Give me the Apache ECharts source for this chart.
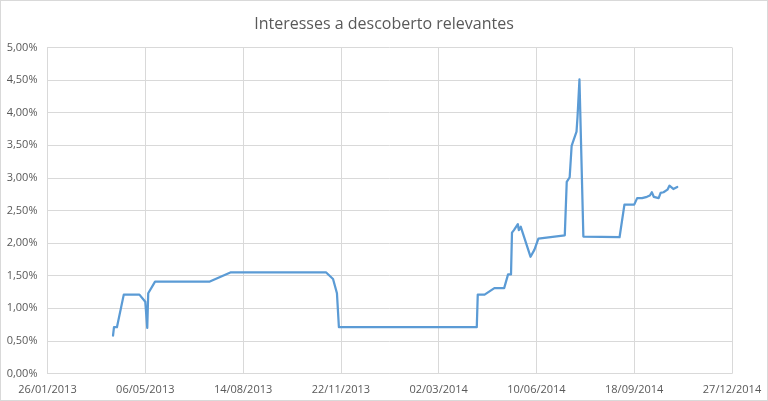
<!DOCTYPE html>
<html>
<head>
<meta charset="utf-8">
<script src="https://cdn.jsdelivr.net/npm/echarts@6/dist/echarts.min.js"></script>
<style>
html,body{margin:0;padding:0;background:#fff;}
#c{width:766px;height:399px;border:1px solid #D9D9D9;}
</style>
</head>
<body>
<div id="c"></div>
<script>
const dates = [
"2013-04-03","2013-04-04","2013-04-07","2013-04-14","2013-04-30","2013-05-06","2013-05-08","2013-05-09","2013-05-16","2013-07-11",
"2013-08-01","2013-11-07","2013-11-14","2013-11-18","2013-11-20","2014-04-10","2014-04-11","2014-04-18","2014-04-28","2014-05-08",
"2014-05-12","2014-05-15","2014-05-16","2014-05-18","2014-05-20","2014-05-22","2014-05-23","2014-05-25","2014-05-27","2014-06-04",
"2014-06-08","2014-06-10","2014-06-12","2014-06-14","2014-07-09","2014-07-11","2014-07-14","2014-07-16","2014-07-18","2014-07-21",
"2014-07-22","2014-07-23","2014-07-24","2014-07-28","2014-09-03","2014-09-08","2014-09-18","2014-09-21","2014-09-23","2014-09-26",
"2014-10-01","2014-10-04","2014-10-06","2014-10-08","2014-10-10","2014-10-13","2014-10-15","2014-10-18","2014-10-20","2014-10-22",
"2014-10-24","2014-10-28","2014-10-30","2014-11-01"
];
const rates = [
0.58,0.71,0.71,1.21,1.21,1.10,0.70,1.23,1.41,1.41,
1.55,1.55,1.45,1.23,0.71,0.71,1.21,1.21,1.31,1.31,
1.52,1.52,2.16,2.20,2.21,2.29,2.20,2.25,2.28,1.79,
1.90,1.90,2.07,2.10,2.12,2.94,3.01,3.49,3.58,3.71,
3.93,3.93,4.51,2.10,2.09,2.59,2.59,2.69,2.68,2.69,
2.71,2.73,2.78,2.71,2.73,2.69,2.77,2.78,2.80,2.82,
2.88,2.83,2.84,2.86
];
const axisStart = "2013-01-26";
const axisEnd = "2014-12-27";
const stepDays = 100;

const DAY = 86400000;
function toUTC(s){const p=s.split('-').map(Number);return Date.UTC(p[0],p[1]-1,p[2]);}
const origin = toUTC(axisStart);
const dayOf = s => Math.round((toUTC(s)-origin)/DAY);
function fmtDay(d){
  const t=new Date(origin+d*DAY);
  const dd=String(t.getUTCDate()).padStart(2,'0');
  const mm=String(t.getUTCMonth()+1).padStart(2,'0');
  return dd+'/'+mm+'/'+t.getUTCFullYear();
}
const data = dates.map((d,i)=>[dayOf(d), rates[i]]);

const chart = echarts.init(document.getElementById('c'));
chart.setOption({
  animation:false,
  title:{text:'Interesses a descoberto relevantes',left:'center',top:10,
    textStyle:{fontFamily:'Open Sans',fontSize:16,fontWeight:'normal',color:'#595959'}},
  grid:{left:46.5,right:35,top:46.5,bottom:26.5},
  xAxis:{type:'value',min:0,max:dayOf(axisEnd),interval:stepDays,
    axisLine:{show:true,lineStyle:{color:'#D9D9D9'}},
    axisTick:{show:false},
    splitLine:{show:true,lineStyle:{color:'#D9D9D9'}},
    axisLabel:{formatter:v=>fmtDay(v),color:'#595959',fontFamily:'Open Sans',fontSize:11,margin:11}},
  yAxis:{type:'value',min:0,max:5,interval:0.5,
    axisLine:{show:true,lineStyle:{color:'#D9D9D9'}},
    axisTick:{show:false},
    splitLine:{show:true,lineStyle:{color:'#D9D9D9'}},
    axisLabel:{formatter:v=>v.toFixed(2).replace('.',',')+'%',color:'#595959',fontFamily:'Open Sans',fontSize:11,margin:10}},
  series:[{type:'line',data:data,showSymbol:false,symbol:'none',
    lineStyle:{color:'#5B9BD5',width:2.25,cap:'round',join:'round'}}]
});
</script>
</body>
</html>
